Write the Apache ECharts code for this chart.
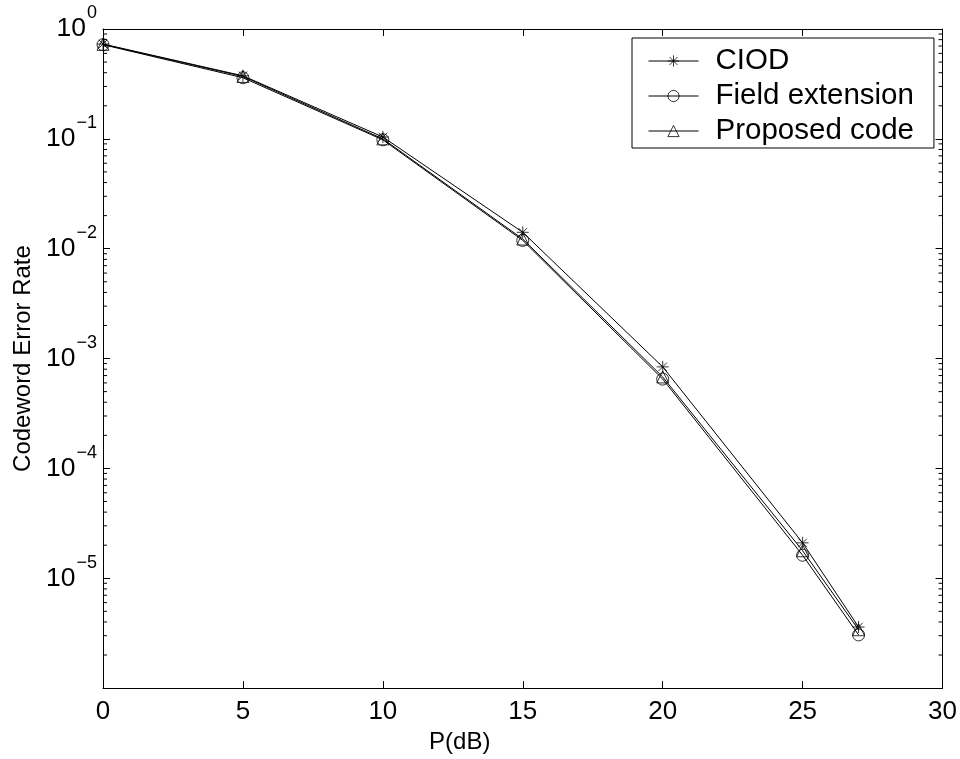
<!DOCTYPE html>
<html>
<head>
<meta charset="utf-8">
<script src="https://cdn.jsdelivr.net/npm/echarts@6/dist/echarts.min.js"></script>
<style>html,body{margin:0;padding:0;background:#fff;}#c{width:960px;height:759px;}</style>
</head>
<body>
<div id="c"></div>
<script>
var P = [0, 5, 10, 15, 20, 25, 27];
var ciod = [0.73, 0.375, 0.104, 0.0141, 8.4e-4, 2.1e-5, 3.6e-6];
var fieldExt = [0.72, 0.36, 0.098, 0.0119, 6.5e-4, 1.62e-5, 3.05e-6];
var proposed = [0.725, 0.37, 0.100, 0.01225, 6.8e-4, 1.78e-5, 3.4e-6];
var xTicks = [0, 5, 10, 15, 20, 25, 30];
var yDecades = [-6, -5, -4, -3, -2, -1, 0];
var seriesNames = ['CIOD', 'Field extension', 'Proposed code'];

// minor tick positions of the log axis (2..9 x 10^k)
var minorTicks = [];
for (var k = -6; k < 0; k++) {
  for (var m = 2; m <= 9; m++) minorTicks.push([0, m * Math.pow(10, k)]);
}

var FONT = '"Liberation Sans", Arial, Helvetica, sans-serif';
var starPath = 'path://M0,-10L0,10M-10,0L10,0M-7.07,-7.07L7.07,7.07M-7.07,7.07L7.07,-7.07';

function pairs(ys) { return P.map(function (x, i) { return [x, ys[i]]; }); }

function lineSeries(name, data, symbol, size) {
  return {
    name: name, type: 'line', data: pairs(data),
    symbol: symbol, symbolSize: size,
    lineStyle: { color: '#000', width: 1 },
    itemStyle: { color: 'rgba(0,0,0,0)', borderColor: '#000', borderWidth: 0.8 },
    emphasis: { disabled: true },
    animation: false
  };
}

var chart = echarts.init(document.getElementById('c'), null, { renderer: 'canvas' });
chart.setOption({
  backgroundColor: '#fff',
  animation: false,
  textStyle: { fontFamily: FONT },
  grid: { left: 103, right: 17, top: 29, bottom: 68, containLabel: false },
  legend: {
    data: seriesNames,
    orient: 'vertical',
    left: 632, top: 38,
    padding: [8, 20, 2, 16],
    itemGap: 5,
    itemWidth: 50, itemHeight: 14,
    backgroundColor: '#fff',
    borderColor: '#000', borderWidth: 1,
    lineStyle: { width: 1, color: '#000' },
    itemStyle: { borderWidth: 0.8, borderColor: '#000', color: 'rgba(0,0,0,0)' },
    textStyle: { fontFamily: FONT, fontSize: 29.5, color: '#000', padding: [0, 0, 0, 12] },
    selectedMode: false
  },
  xAxis: [{
    type: 'value', min: 0, max: 30, interval: 5, position: 'bottom',
    name: 'P(dB)', nameLocation: 'middle', nameGap: 41,
    nameTextStyle: { fontFamily: FONT, fontSize: 24, color: '#000', padding: [0, 126, 0, 0] },
    axisLine: { show: true, lineStyle: { color: '#000', width: 1 } },
    axisTick: { show: true, inside: true, length: 7, lineStyle: { color: '#000' } },
    axisLabel: { fontFamily: FONT, fontSize: 26, color: '#000', margin: 11,
      customValues: xTicks },
    splitLine: { show: false }
  }, {
    type: 'value', min: 0, max: 30, interval: 5, position: 'top',
    axisLine: { show: true, onZero: false, lineStyle: { color: '#000', width: 1 } },
    axisTick: { show: true, inside: true, length: 7, lineStyle: { color: '#000' } },
    axisLabel: { show: false },
    splitLine: { show: false }
  }],
  yAxis: [{
    type: 'log', logBase: 10, min: 1e-6, max: 1, splitNumber: 6, position: 'left',
    name: 'Codeword Error Rate', nameLocation: 'middle', nameGap: 68,
    nameTextStyle: { fontFamily: FONT, fontSize: 24, color: '#000' },
    axisLine: { show: true, onZero: false, lineStyle: { color: '#000', width: 1 } },
    axisTick: { show: true, inside: true, length: 7, lineStyle: { color: '#000' } },
    minorTick: { show: false },
    axisLabel: {
      margin: 6,
      formatter: function (v) {
        var e = Math.round(Math.log(v) / Math.LN10);
        if (yDecades.indexOf(e) < 0 || e === -6) return '';
        var s = e < 0 ? '\u2212' + (-e) : String(e);
        return '{b|10}{s|' + s + '}';
      },
      rich: {
        b: { fontFamily: FONT, fontSize: 26.5, color: '#000' },
        s: { fontFamily: FONT, fontSize: 18, color: '#000', padding: [0, 0, 31, 1] }
      }
    },
    splitLine: { show: false }
  }, {
    type: 'log', logBase: 10, min: 1e-6, max: 1, splitNumber: 6, position: 'right',
    axisLine: { show: true, onZero: false, lineStyle: { color: '#000', width: 1 } },
    axisTick: { show: true, inside: true, length: 7, lineStyle: { color: '#000' } },
    axisLabel: { show: false },
    splitLine: { show: false }
  }],
  series: [
    lineSeries('CIOD', ciod, starPath, 12),
    lineSeries('Field extension', fieldExt, 'circle', 12),
    lineSeries('Proposed code', proposed, 'triangle', 12),
    {
      type: 'custom', name: 'minorTicks', data: minorTicks, silent: true,
      encode: { x: 0, y: 1 }, clip: false, animation: false,
      renderItem: function (params, api) {
        var y = api.coord([api.value(0), api.value(1)])[1];
        var cs = params.coordSys;
        return {
          type: 'group', children: [
            { type: 'line', shape: { x1: cs.x, y1: y, x2: cs.x + 4, y2: y }, style: { stroke: '#000', lineWidth: 1 } },
            { type: 'line', shape: { x1: cs.x + cs.width, y1: y, x2: cs.x + cs.width - 4, y2: y }, style: { stroke: '#000', lineWidth: 1 } }
          ]
        };
      }
    }
  ]
});
</script>
</body>
</html>
